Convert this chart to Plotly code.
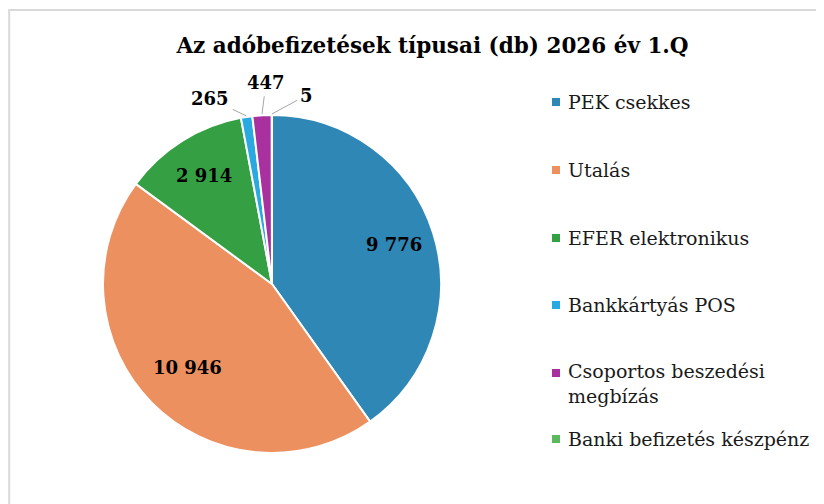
import math
import plotly.graph_objects as go

categories = ["PEK csekkes", "Utalás", "EFER elektronikus", "Bankkártyás POS",
              "Csoportos beszedési megbízás", "Banki befizetés készpénz"]
values = [9776, 10946, 2914, 265, 447, 5]
colors = ["#2e87b5", "#ec9060", "#35a043", "#2aa9e0", "#a8309f", "#5cb85c"]
title_text = "Az adóbefizetések típusai (db) 2026 év 1.Q"

W, H = 824, 504
OFF = 8  # page body margin in the browser
FONT = "DejaVu Serif"


def px(xs):
    return (xs - OFF) / W


def py(ys):
    return 1 - (ys - OFF) / H


def fmt(v):
    return f"{v:,}".replace(",", " ")


# pie geometry (screen pixels)
CX, CY, R = 272, 284, 169

fig = go.Figure(go.Pie(
    labels=categories,
    values=values,
    sort=False,
    direction="clockwise",
    rotation=0,
    marker=dict(colors=colors, line=dict(color="white", width=2)),
    textinfo="none",
    domain=dict(x=[px(CX - R), px(CX + R)], y=[py(CY + R), py(CY - R)]),
    hoverinfo="label+value",
    showlegend=False,
))

annotations = []
shapes = [dict(type="rect", xref="paper", yref="paper",
               x0=1.2 / W, x1=1.02, y0=-0.02, y1=py(10),
               line=dict(color="#d9d9d9", width=2), fillcolor="rgba(0,0,0,0)", layer="below")]

# value labels, placed from slice mid-angles
total = sum(values)
cum = 0
small_offsets = {3: (-36, -17), 4: (4, -32), 5: (35, -19)}
inside_radius = {0: 0.76, 1: 0.70, 2: 0.76}
label_font = dict(family=FONT, size=18, color="black", weight="bold")
for i, v in enumerate(values):
    mid = (cum + v / 2) / total * 2 * math.pi
    cum += v
    if i in small_offsets:
        ex = CX + (R + 1) * math.sin(mid)
        ey = CY - (R + 1) * math.cos(mid)
        ax, ay = small_offsets[i]
        annotations.append(dict(x=px(ex), y=py(ey), xref="paper", yref="paper",
                                text=fmt(v), font=label_font, showarrow=True,
                                arrowhead=0, arrowwidth=1, arrowcolor="#a6a6a6",
                                ax=ax, ay=ay, standoff=0, startstandoff=2))
    else:
        f = inside_radius[i]
        lx = CX + f * R * math.sin(mid)
        ly = CY - f * R * math.cos(mid)
        annotations.append(dict(x=px(lx), y=py(ly), xref="paper", yref="paper",
                                text=fmt(v), font=label_font, showarrow=False,
                                xanchor="center", yanchor="middle"))

# legend (drawn manually for Excel-like spacing)
legend_rows = [102, 170, 238, 305, 373, 439]
legend_font_size = 19
for name, col, yc in zip(categories, colors, legend_rows):
    text = "Csoportos beszedési<br>megbízás" if name == "Csoportos beszedési megbízás" else name
    nlines = text.count("<br>") + 1
    shapes.append(dict(type="rect", xref="paper", yref="paper",
                       x0=px(552), x1=px(560), y0=py(yc + 4), y1=py(yc - 4),
                       fillcolor=col, line=dict(width=0)))
    annotations.append(dict(x=px(566), y=py(yc + (nlines - 1) * 1.1 * legend_font_size / 2),
                            xref="paper", yref="paper", text=text, showarrow=False,
                            xanchor="left", yanchor="middle", align="left",
                            font=dict(family=FONT, size=legend_font_size, color="#1a1a1a")))

fig.update_layout(
    width=W, height=H,
    margin=dict(l=0, r=0, t=0, b=0),
    paper_bgcolor="white",
    separators=", ",
    showlegend=False,
    title=dict(text=title_text, x=px(432.5), xanchor="center", y=py(45), yanchor="middle",
               font=dict(family=FONT, size=21.5, color="black", weight="bold")),
    annotations=annotations,
    shapes=shapes,
)

fig.write_html("out.html")
